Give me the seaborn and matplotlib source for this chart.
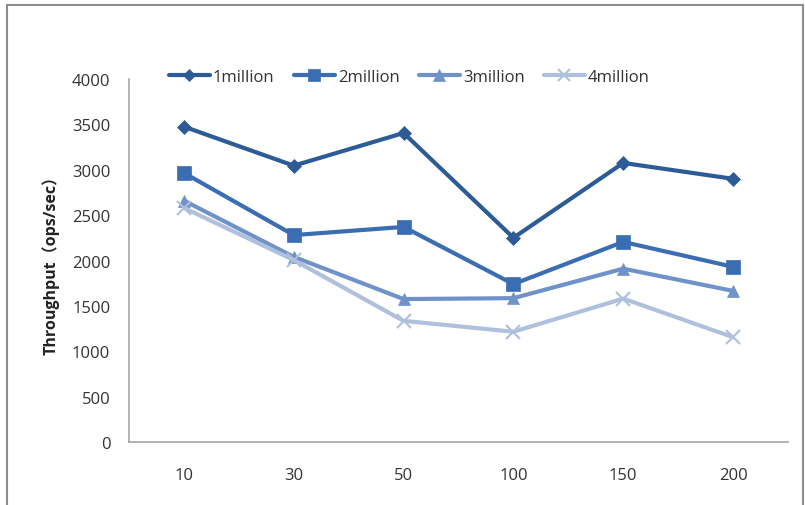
import matplotlib
matplotlib.use("Agg")
import matplotlib.pyplot as plt
import seaborn as sns
import pandas as pd
from matplotlib.patches import Rectangle

threads = ["10", "30", "50", "100", "150", "200"]
series_names = ["1million", "2million", "3million", "4million"]
tp_1m = [3475, 3045, 3405, 2250, 3075, 2900]
tp_2m = [2965, 2280, 2370, 1740, 2205, 1930]
tp_3m = [2660, 2040, 1575, 1585, 1910, 1665]
tp_4m = [2580, 2005, 1335, 1215, 1580, 1155]

colors = ["#2D5B96", "#3B6DB3", "#6F92C9", "#AFC0DC"]
markers = ["D", "s", "^", "x"]
msizes = [7, 10, 9, 10]

rows = []
for name, vals in zip(series_names, [tp_1m, tp_2m, tp_3m, tp_4m]):
    for i, v in enumerate(vals):
        rows.append({"pos": i, "threads": threads[i], "series": name, "tp": v})
df = pd.DataFrame(rows)

sns.set_theme(style="white")
plt.rcParams["font.family"] = ["Open Sans", "Noto Sans CJK SC", "DejaVu Sans"]

fig = plt.figure(figsize=(8.05, 5.06), dpi=100)
ax = fig.add_axes([129 / 805, 1 - 443 / 506, 659 / 805, 363 / 506])

for name, c, m, ms in zip(series_names, colors, markers, msizes):
    sub = df[df["series"] == name]
    sns.lineplot(data=sub, x="pos", y="tp", ax=ax, color=c, marker=m,
                 markersize=ms, linewidth=3, markeredgecolor=c,
                 markeredgewidth=1.5 if m == "x" else 0.5,
                 label=name, legend=False)

ax.set_xlim(-0.5, 5.5)
ax.set_ylim(0, 4000)
ax.set_xticks(range(len(threads)))
ax.set_xticklabels(threads)
ax.set_yticks(range(0, 4001, 500))
ax.tick_params(axis="both", length=0, labelsize=12, colors="#333333")
ax.tick_params(axis="y", pad=13.5)
ax.tick_params(axis="x", pad=18)
ax.set_xlabel("")
ax.set_ylabel("Throughput（ops/sec）", fontsize=11.5, fontweight="bold",
              color="#222222", labelpad=9)
for s in ["top", "right"]:
    ax.spines[s].set_visible(False)
for s in ["left", "bottom"]:
    ax.spines[s].set_color("#A6A6A6")
    ax.spines[s].set_linewidth(1.2)

handles, labels = ax.get_legend_handles_labels()
leg = ax.legend(handles, labels, ncol=4, frameon=False, loc="upper left",
                bbox_to_anchor=(0.0375, 1.07), fontsize=12,
                handlelength=2.45, columnspacing=1.15, handletextpad=0.2,
                markerscale=0.9)
for t in leg.get_texts():
    t.set_color("#333333")

fig.patches.append(Rectangle((7 / 805, -0.05), 796 / 805, 1.05 - 6 / 506,
                             transform=fig.transFigure, fill=False,
                             edgecolor="#8C8C8C", linewidth=1.5))

fig.savefig("out.png", dpi=100, facecolor="white")
